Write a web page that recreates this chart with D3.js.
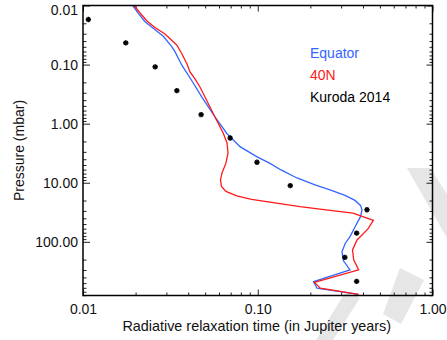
<!DOCTYPE html>
<html>
<head>
<meta charset="utf-8">
<script src="https://cdn.jsdelivr.net/npm/d3@7"></script>
<style>
  html, body { margin: 0; padding: 0; background: #fff; }
  svg { display: block; font-family: "Liberation Sans", Arial, Helvetica, sans-serif; }
</style>
</head>
<body>
<svg id="chart" width="447" height="340"></svg>
<script>
// ---- Data (radiative relaxation time in Jupiter years vs pressure in mbar) ----
const eqTau = [0.01925, 0.02073, 0.02264, 0.02526, 0.02881, 0.0322, 0.0336, 0.03685, 0.04205, 0.048,
               0.0569, 0.0664, 0.0791, 0.0986, 0.1175, 0.1358, 0.1677, 0.2127, 0.259, 0.3157,
               0.36, 0.3873, 0.395, 0.3873, 0.36, 0.3373, 0.317, 0.3034, 0.3095, 0.3373,
               0.2084, 0.2183, 0.377];
const eqP   = [0.01, 0.01355, 0.0188, 0.0243, 0.0332, 0.0498, 0.0605, 0.1035, 0.1895, 0.36,
               0.77, 1.453, 2.45, 3.62, 4.71, 6.07, 8.3, 10.9, 13.2, 16.4,
               19.9, 24.2, 28.9, 37.5, 56, 81.7, 105.6, 148, 210, 299,
               471, 610, 776];

const n40Tau = [0.01958, 0.0212, 0.02323, 0.02582, 0.02945, 0.03438, 0.03685, 0.03936, 0.04095, 0.04374,
                0.0467, 0.0499, 0.0569, 0.0635, 0.0667, 0.0676, 0.0658, 0.0624, 0.0612, 0.062,
                0.0658, 0.0758, 0.0923, 0.1125, 0.1745, 0.259, 0.3508, 0.4584, 0.4274, 0.37,
                0.3485, 0.354, 0.378, 0.2110, 0.228, 0.377];
const n40P   = [0.01, 0.0134, 0.0183, 0.02356, 0.0304, 0.0466, 0.0662, 0.0977, 0.1334, 0.1753,
                0.2393, 0.353, 0.77, 1.453, 2.12, 3.13, 4.62, 6.9, 8.97, 11.55,
                14.0, 16.7, 19.2, 20.9, 25.4, 29.4, 32.8, 43.4, 60.5, 92.9,
                137, 202, 299, 485, 610, 776];

const kurodaTau = [0.01073, 0.01757, 0.02588, 0.03444, 0.0474, 0.0695, 0.099, 0.1535, 0.4217, 0.368, 0.315, 0.368];
const kurodaP   = [0.01726, 0.0429, 0.1094, 0.276, 0.703, 1.747, 4.49, 11.2, 28.7, 71.2, 183, 467];

const xTickValues = [0.01, 0.1, 1];
const xTickLabels = ["0.01", "0.10", "1.00"];
const yTickValues = [0.01, 0.1, 1, 10, 100];
const yTickLabels = ["0.01", "0.10", "1.00", "10.00", "100.00"];

const legendLabels = ["Equator", "40N", "Kuroda 2014"];
const xTitle = "Radiative relaxation time (in Jupiter years)";
const yTitle = "Pressure (mbar)";

// ---- Layout ----
const W = 447, H = 340;
const L = 83, R = 432.5, T = 5.5, B = 295.5;
const colors = { eq: "#3366ff", n40: "#ff1a1a", k: "#000000" };

const svg = d3.select("#chart");

// faint background watermark fragments (decoration of the source image)
const wm = svg.append("g").attr("fill", "#e6e6e6");
wm.append("polygon").attr("points", "400,268 424,280 401,324 383,314");
wm.append("polygon").attr("points", "316,340 333,340 360,298 346,291");
wm.append("polygon").attr("points", "407,168 430,168 447,194 447,238");

const x = d3.scaleLog().domain([0.01, 1]).range([L, R]);
const y = d3.scaleLog().domain([0.01, 810]).range([T, B]);

function minorTicks(scale) {
  const [a, b] = scale.domain();
  const out = [];
  for (let e = Math.floor(Math.log10(a)); e <= Math.ceil(Math.log10(b)); e++) {
    for (let m = 2; m <= 9; m++) {
      const v = m * Math.pow(10, e);
      if (v > a && v < b) out.push(v);
    }
  }
  return out;
}

const fmtX = d => xTickLabels[xTickValues.indexOf(d)];
const fmtY = d => yTickLabels[yTickValues.indexOf(d)];

// Bottom axis
const gB = svg.append("g").attr("transform", `translate(0,${B})`);
gB.call(d3.axisBottom(x).tickValues(xTickValues).tickFormat(fmtX).tickSize(-6).tickPadding(9));
gB.append("g").call(d3.axisBottom(x).tickValues(minorTicks(x)).tickFormat("").tickSize(-3));
// Top axis
const gT = svg.append("g").attr("transform", `translate(0,${T})`);
gT.call(d3.axisTop(x).tickValues(xTickValues).tickFormat("").tickSize(-6));
gT.append("g").call(d3.axisTop(x).tickValues(minorTicks(x)).tickFormat("").tickSize(-3));
// Left axis
const gL = svg.append("g").attr("transform", `translate(${L},0)`);
gL.call(d3.axisLeft(y).tickValues(yTickValues).tickFormat(fmtY).tickSize(-7).tickPadding(5));
gL.append("g").call(d3.axisLeft(y).tickValues(minorTicks(y)).tickFormat("").tickSize(-3.5));
// Right axis
const gR = svg.append("g").attr("transform", `translate(${R},0)`);
gR.call(d3.axisRight(y).tickValues(yTickValues).tickFormat("").tickSize(-6));
gR.append("g").call(d3.axisRight(y).tickValues(minorTicks(y)).tickFormat("").tickSize(-3));

svg.selectAll(".domain").remove();
svg.selectAll(".tick line").attr("stroke", "#222").attr("stroke-width", 1);
svg.selectAll(".tick text").attr("font-size", 14).attr("fill", "#111")
   .attr("font-family", "'Liberation Sans', Arial, Helvetica, sans-serif");
// top-most y label sits slightly lower in the reference
gL.selectAll(".tick text").filter(d => d === 0.01).attr("dy", "0.64em");

// Clip
svg.append("clipPath").attr("id", "clip").append("rect")
  .attr("x", L).attr("y", T).attr("width", R - L).attr("height", B - T);

const plot = svg.append("g").attr("clip-path", "url(#clip)");

const line = d3.line().x(d => x(d[0])).y(d => y(d[1]));

plot.append("path").datum(eqTau.map((t, i) => [t, eqP[i]]))
  .attr("d", line).attr("fill", "none").attr("stroke", colors.eq).attr("stroke-width", 1.3);
plot.append("path").datum(n40Tau.map((t, i) => [t, n40P[i]]))
  .attr("d", line).attr("fill", "none").attr("stroke", colors.n40).attr("stroke-width", 1.3);

// Kuroda asterisks
const plus = d3.symbol().type(d3.symbolPlus).size(11);
const xsym = d3.symbol().type(d3.symbolX).size(11);
const kd = kurodaTau.map((t, i) => [t, kurodaP[i]]);
const kg = svg.append("g");
kg.selectAll("path.p").data(kd).join("path").attr("class", "p")
  .attr("transform", d => `translate(${x(d[0])},${y(d[1])})`)
  .attr("d", plus).attr("fill", "none").attr("stroke", colors.k).attr("stroke-width", 1.6);
kg.selectAll("path.x").data(kd).join("path").attr("class", "x")
  .attr("transform", d => `translate(${x(d[0])},${y(d[1])})`)
  .attr("d", xsym).attr("fill", "none").attr("stroke", colors.k).attr("stroke-width", 1.6);

// Frame
svg.append("rect").attr("x", L).attr("y", T).attr("width", R - L).attr("height", B - T)
  .attr("fill", "none").attr("stroke", "#000").attr("stroke-width", 1.5);

// Legend
const legColors = [colors.eq, colors.n40, colors.k];
svg.append("g").selectAll("text").data(legendLabels).join("text")
  .attr("x", 310).attr("y", (d, i) => 57.5 + i * 22)
  .attr("font-size", 14).attr("fill", (d, i) => legColors[i]).text(d => d);

// Axis titles
svg.append("text").attr("x", (L + R) / 2 - 1).attr("y", 331).attr("text-anchor", "middle")
  .attr("font-size", 14.4).attr("fill", "#111").text(xTitle);
svg.append("text").attr("transform", `translate(24,${(T + B) / 2}) rotate(-90)`)
  .attr("text-anchor", "middle").attr("font-size", 14).attr("fill", "#111").text(yTitle);
</script>
</body>
</html>
